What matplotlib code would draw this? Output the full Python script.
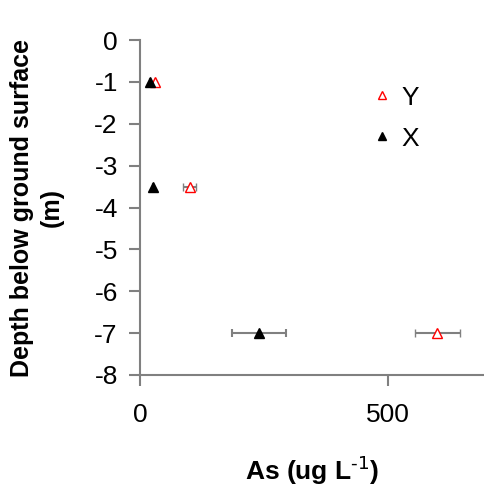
import matplotlib
matplotlib.use("Agg")
import matplotlib.pyplot as plt
from matplotlib.lines import Line2D

plt.rcParams['font.family'] = ['Liberation Sans', 'DejaVu Sans']
plt.rcParams['mathtext.default'] = 'regular'

depth = [-1, -3.5, -7]
x_vals = [20, 26, 240]
x_err = [0, 0, 54]
y_vals = [30, 100, 600]
y_err = [0, 13, 45]

xticks = [0, 500]
yticks = [0, -1, -2, -3, -4, -5, -6, -7, -8]

fig = plt.figure(figsize=(4.84, 4.91), dpi=100)
ax = fig.add_axes([140/484, 1-375/491, 1-140/484, (375-40)/491])

grey = '#808080'
ax.errorbar(y_vals, depth, xerr=y_err, fmt='^', mfc='white', mec='red', mew=1.0,
            ms=7, ecolor=grey, elinewidth=1.5, capsize=3, capthick=1.5, zorder=3)
ax.errorbar(x_vals, depth, xerr=x_err, fmt='^', mfc='black', mec='black',
            ms=7, ecolor=grey, elinewidth=1.5, capsize=3, capthick=1.5, zorder=4)

ax.set_xlim(0, 694)
ax.set_ylim(-8, 0)
ax.set_xticks(xticks)
ax.set_yticks(yticks)
ax.set_yticklabels([str(t) for t in yticks])
for s in ['top', 'right']:
    ax.spines[s].set_visible(False)
for s in ['left', 'bottom']:
    ax.spines[s].set_color(grey)
    ax.spines[s].set_linewidth(1.5)
ax.tick_params(axis='both', colors=grey, labelcolor='black', labelsize=19, width=1.5, length=8, direction='out')
ax.tick_params(axis='y', pad=8)
ax.tick_params(axis='x', pad=12)

ax.set_xlabel('As (ug L$^{\\text{-1}}$)', fontsize=19, fontweight='bold', labelpad=20)
ax.set_ylabel('Depth below ground surface\n(m)', fontsize=18, fontweight='bold', labelpad=22, linespacing=1.3)

handles = [Line2D([], [], ls='none', marker='^', mfc='white', mec='red', mew=1.0, ms=6),
           Line2D([], [], ls='none', marker='^', mfc='black', mec='black', ms=6)]
ax.legend(handles, ['Y', 'X'], loc='upper left', bbox_to_anchor=(0.6, 0.935), frameon=False, fontsize=19,
          handletextpad=0.27, labelspacing=0.65, handlelength=0.9)

fig.savefig('out.png', dpi=100)
